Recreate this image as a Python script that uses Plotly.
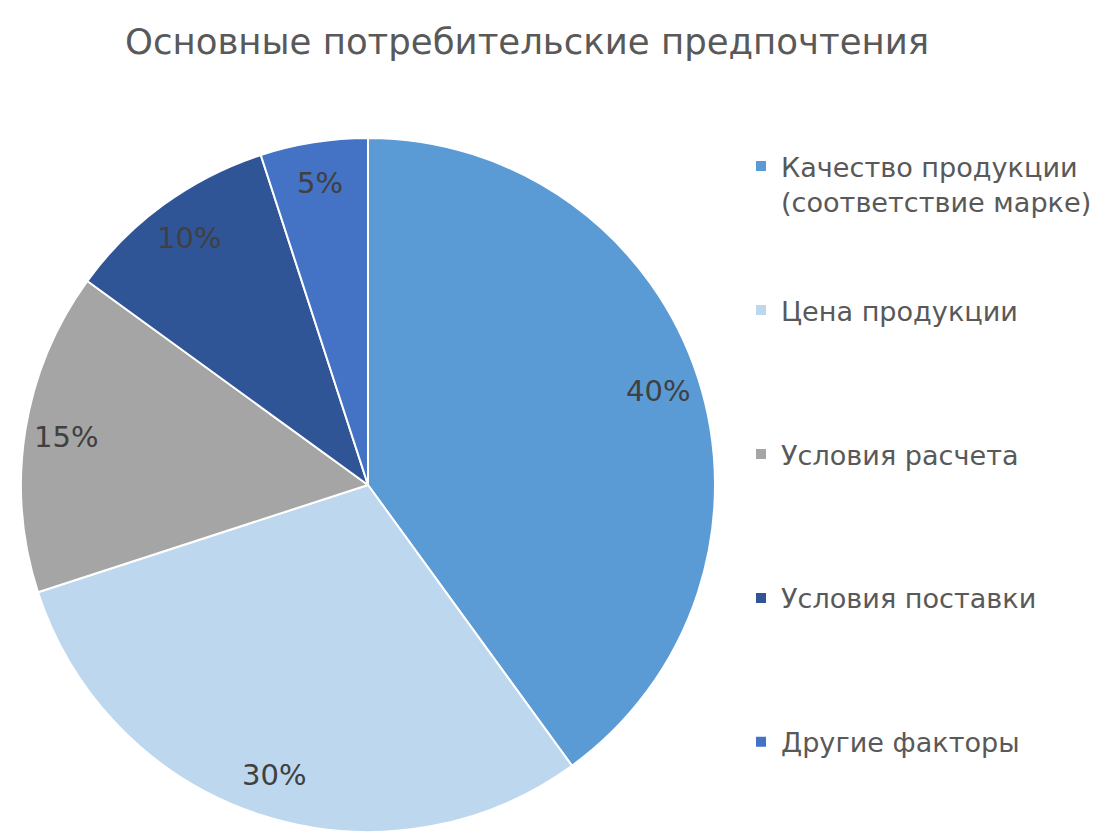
import math
import plotly.graph_objects as go

categories = ["Качество продукции<br>(соответствие марке)", "Цена продукции",
              "Условия расчета", "Условия поставки", "Другие факторы"]
values = [40, 30, 15, 10, 5]
colors = ["#5B9BD5", "#BDD7EE", "#A5A5A5", "#2F5597", "#4472C4"]
title_text = "Основные потребительские предпочтения"

W, H = 1102, 836
cx, cy, R = 368, 485, 347
FONT = "DejaVu Sans"

# legend labels padded with blank lines to reproduce Excel-like spacing
legend_labels = []
for i, c in enumerate(categories):
    n = c.count("<br>") + 1
    pad = 0 if i == len(categories) - 1 else 4 - n
    legend_labels.append(c + "<br>&nbsp;" * pad)

fig = go.Figure()
fig.add_trace(go.Pie(
    labels=legend_labels,
    values=values,
    marker=dict(colors=colors, line=dict(color="white", width=2)),
    sort=False,
    direction="clockwise",
    rotation=0,
    textinfo="none",
    hoverinfo="percent",
    domain=dict(x=[(cx - R) / W, (cx + R) / W], y=[1 - (cy + R) / H, 1 - (cy - R) / H]),
))

total = sum(values)
cum = 0
for v in values:
    theta = math.radians(360 * (cum + v / 2) / total)
    cum += v
    r = 0.88 * R
    px = cx + r * math.sin(theta)
    py = cy - r * math.cos(theta)
    fig.add_annotation(x=px / W, y=1 - py / H, xref="paper", yref="paper",
                       xanchor="center", yanchor="middle",
                       text=f"{round(100 * v / total)}%", showarrow=False,
                       font=dict(family=FONT, size=29, color="#404040"))

fig.add_annotation(x=527 / W, y=1 - 42 / H, xref="paper", yref="paper",
                   xanchor="center", yanchor="middle",
                   text=title_text, showarrow=False,
                   font=dict(family=FONT, size=35.5, color="#595959"))

fig.update_layout(
    width=W, height=H,
    margin=dict(l=0, r=0, t=0, b=0),
    paper_bgcolor="white",
    plot_bgcolor="white",
    showlegend=True,
    legend=dict(x=741 / W, y=1 - 142 / H, xanchor="left", yanchor="top",
                valign="top", font=dict(family=FONT, size=27.1, color="#595959"),
                itemwidth=30, tracegroupgap=0),
)

fig.write_html("out.html")
